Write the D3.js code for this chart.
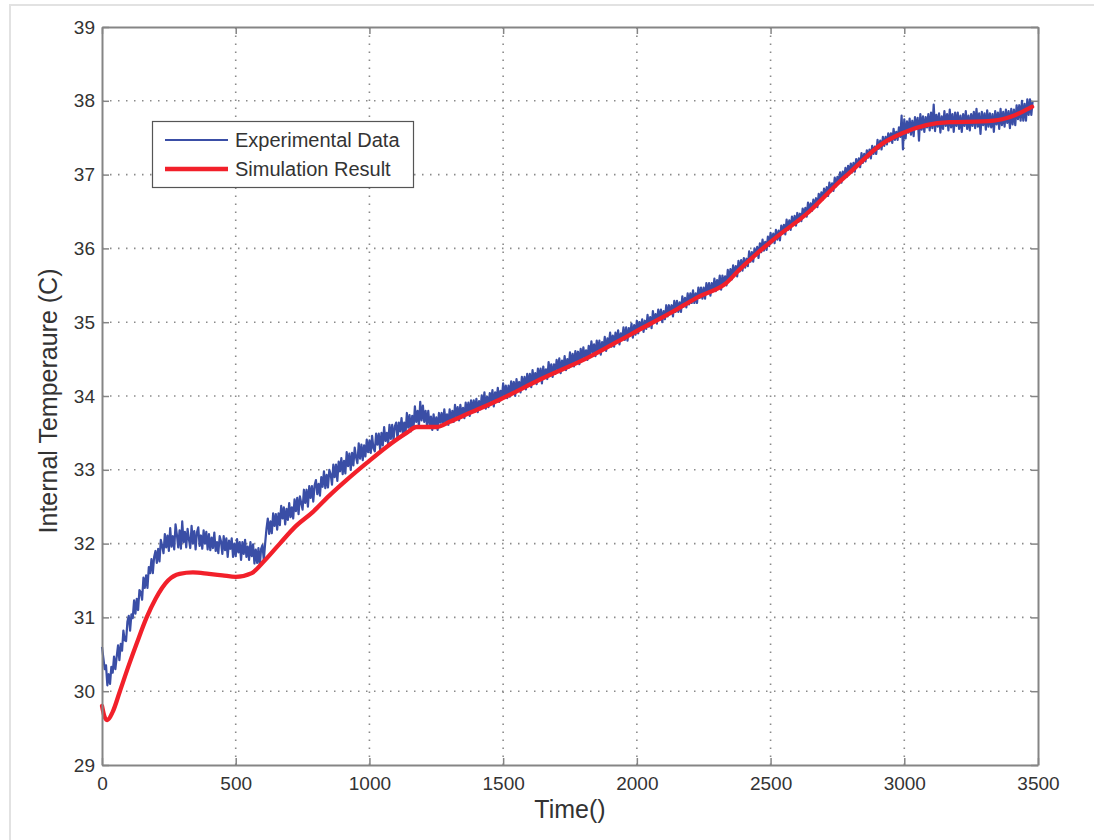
<!DOCTYPE html>
<html>
<head>
<meta charset="utf-8">
<script src="https://cdn.jsdelivr.net/npm/d3@7"></script>
<style>
  html, body { margin: 0; padding: 0; background: #fff; }
  svg { display: block; }
  text { font-family: "Liberation Sans", Arial, sans-serif; fill: #333; }
</style>
</head>
<body>
<svg id="chart" width="1094" height="840"></svg>
<script>
// Experimental measurements, sampled every 5 s from t = 0 to 3480 s (one row = 200 s)
const expStep = 5;
const expTemp = [
  30.60,30.45,30.30,30.35,30.08,30.23,30.10,30.33,30.25,30.47,30.30,30.47,30.62,30.42,30.64,30.55,30.82,30.69,30.68,30.94,31.02,30.82,31.04,30.99,31.23,31.05,31.25,31.10,31.37,31.34,31.24,31.54,31.40,31.57,31.40,31.68,31.60,31.79,31.60,31.82,
  31.90,31.74,31.93,31.76,32.05,31.97,31.87,32.13,31.95,32.11,31.90,32.21,31.96,32.10,31.92,32.26,32.12,31.95,32.18,31.93,32.30,32.02,32.16,31.95,32.20,32.06,31.94,32.24,32.00,32.17,31.92,32.15,32.22,31.97,32.11,31.93,32.18,32.00,32.16,31.92,
  32.13,31.91,32.08,31.94,32.15,31.90,32.02,31.87,32.10,32.03,31.86,32.10,31.91,32.07,31.82,32.04,31.93,32.07,31.82,32.00,31.83,32.06,31.88,32.02,31.78,32.02,31.86,32.05,31.82,31.96,31.78,32.02,31.83,31.99,31.73,31.92,31.74,31.94,31.70,31.93,
  31.98,31.78,32.00,32.20,32.34,32.13,32.30,32.14,32.41,32.24,32.40,32.19,32.41,32.25,32.51,32.34,32.49,32.26,32.47,32.32,32.55,32.36,32.49,32.34,32.60,32.44,32.62,32.40,32.64,32.55,32.46,32.73,32.55,32.73,32.50,32.78,32.62,32.78,32.57,32.79,
  32.86,32.67,32.81,32.65,32.90,32.77,32.98,32.75,32.93,32.76,33.00,32.94,32.80,33.07,32.90,33.07,32.85,33.11,32.98,33.16,32.94,33.12,32.95,33.24,33.05,33.22,33.00,33.23,33.06,33.30,33.17,33.09,33.36,33.15,33.34,33.13,33.33,33.18,33.41,33.24,
  33.40,33.23,33.46,33.29,33.25,33.49,33.34,33.49,33.27,33.50,33.33,33.58,33.39,33.50,33.35,33.61,33.42,33.61,33.40,33.59,33.64,33.42,33.64,33.52,33.70,33.49,33.64,33.49,33.77,33.57,33.74,33.52,33.73,33.57,33.86,33.65,33.80,33.59,33.92,33.67,
  33.87,33.65,33.80,33.61,33.80,33.60,33.72,33.54,33.75,33.57,33.71,33.54,33.77,33.64,33.77,33.60,33.82,33.64,33.75,33.61,33.82,33.65,33.80,33.65,33.88,33.72,33.85,33.67,33.88,33.73,33.84,33.70,33.91,33.77,33.91,33.73,33.94,33.79,33.94,33.79,
  33.96,33.78,33.93,33.82,34.01,33.86,34.05,33.83,33.99,33.85,34.04,33.93,34.08,33.86,34.05,33.94,34.11,33.92,34.07,33.96,34.17,34.00,34.14,33.97,34.14,33.99,34.20,34.06,34.19,34.00,34.23,34.08,34.19,34.05,34.26,34.12,34.26,34.09,34.30,34.15,
  34.30,34.12,34.35,34.19,34.31,34.16,34.37,34.24,34.37,34.17,34.40,34.25,34.36,34.23,34.46,34.29,34.43,34.26,34.43,34.30,34.49,34.36,34.51,34.31,34.48,34.37,34.54,34.35,34.50,34.38,34.59,34.43,34.57,34.40,34.61,34.47,34.60,34.43,34.64,34.49,
  34.66,34.51,34.62,34.49,34.68,34.53,34.74,34.59,34.70,34.54,34.75,34.60,34.75,34.56,34.73,34.64,34.80,34.61,34.78,34.69,34.86,34.67,34.82,34.67,34.86,34.73,34.89,34.70,34.85,34.76,34.93,34.76,34.93,34.75,34.92,34.83,34.98,34.79,34.96,34.83,
  35.02,34.85,35.00,34.91,35.04,34.87,35.02,34.91,35.10,34.94,35.07,34.92,35.15,35.00,35.11,34.98,35.17,35.03,35.17,35.00,35.15,35.04,35.23,35.08,35.23,35.12,35.23,35.08,35.29,35.14,35.29,35.14,35.27,35.14,35.35,35.21,35.33,35.20,35.39,35.24,
  35.39,35.26,35.43,35.26,35.39,35.26,35.47,35.33,35.47,35.32,35.47,35.32,35.53,35.40,35.53,35.36,35.53,35.42,35.59,35.42,35.57,35.48,35.63,35.44,35.63,35.52,35.62,35.50,35.71,35.57,35.72,35.58,35.77,35.65,35.76,35.62,35.83,35.69,35.84,35.70,
  35.87,35.74,35.86,35.76,35.96,35.82,35.95,35.82,36.00,35.90,36.02,35.87,36.07,35.95,36.12,35.97,36.09,35.98,36.16,36.03,36.21,36.08,36.20,36.07,36.25,36.12,36.24,36.11,36.31,36.20,36.32,36.19,36.39,36.25,36.38,36.25,36.43,36.32,36.44,36.31,
  36.48,36.36,36.47,36.37,36.54,36.44,36.55,36.43,36.62,36.49,36.61,36.51,36.66,36.56,36.68,36.56,36.74,36.63,36.76,36.66,36.81,36.71,36.83,36.71,36.89,36.77,36.88,36.78,36.96,36.84,36.97,36.89,37.03,36.89,37.04,36.95,37.09,36.97,37.12,37.02,
  37.15,37.03,37.16,37.04,37.21,37.11,37.22,37.10,37.29,37.16,37.28,37.18,37.33,37.23,37.34,37.22,37.39,37.28,37.38,37.28,37.47,37.35,37.46,37.34,37.51,37.39,37.51,37.41,37.56,37.45,37.56,37.43,37.62,37.47,37.58,37.47,37.64,37.51,37.80,37.34,
  37.75,37.49,37.72,37.57,37.76,37.54,37.73,37.52,37.78,37.62,37.77,37.46,37.82,37.61,37.79,37.58,37.78,37.64,37.82,37.60,37.84,37.63,37.95,37.59,37.81,37.65,37.83,37.57,37.79,37.62,37.86,37.66,37.82,37.60,37.88,37.64,37.82,37.58,37.84,37.66,
  37.84,37.62,37.80,37.58,37.82,37.66,37.86,37.62,37.80,37.60,37.82,37.66,37.85,37.63,37.89,37.65,37.83,37.55,37.85,37.67,37.83,37.61,37.87,37.65,37.83,37.64,37.82,37.58,37.86,37.68,37.84,37.62,37.89,37.67,37.85,37.65,37.88,37.70,37.86,37.63,
  37.89,37.68,37.88,37.67,37.94,37.75,37.94,37.73,38.00,37.73,37.96,37.73,38.02,37.81,38.02,37.81,38.00
];

// Simulation output (time in s, temperature in C)
const simTime = [0,10,20,40,67,100,130,167,200,247,290,340,400,450,500,560,603,665,720,789,850,914,989,1064,1139,1176,1250,1300,1374,1487,1636,1823,1984,2133,2234,2334,2383,2507,2645,2757,2794,2918,2992,3082,3168,3292,3366,3441,3478];
const simTemp = [29.80,29.65,29.61,29.72,30.00,30.35,30.65,31.00,31.25,31.50,31.59,31.61,31.59,31.57,31.55,31.60,31.75,32.00,32.22,32.43,32.65,32.86,33.09,33.31,33.50,33.58,33.58,33.65,33.77,33.95,34.22,34.53,34.85,35.14,35.35,35.53,35.71,36.11,36.50,36.90,37.02,37.42,37.56,37.67,37.71,37.72,37.75,37.85,37.92];

const xTicks = [0,500,1000,1500,2000,2500,3000,3500];
const yTicks = [29,30,31,32,33,34,35,36,37,38,39];
const seriesNames = ["Experimental Data", "Simulation Result"];

const expData = expTemp.map((v, i) => ({ t: i * expStep, v }));
const simData = simTime.map((t, i) => ({ t, v: simTemp[i] }));

const svg = d3.select("#chart");
const m = { left: 102, top: 27, right: 1038, bottom: 765 };

// Light frame around the figure
svg.append("path")
  .attr("d", "M10,840 L10,5 L1094,5")
  .attr("fill", "none").attr("stroke", "#e2e2e2").attr("stroke-width", 2);

const x = d3.scaleLinear().domain([0, 3500]).range([m.left, m.right]);
const y = d3.scaleLinear().domain([29, 39]).range([m.bottom, m.top]);

// Dotted grid
const grid = svg.append("g")
  .attr("stroke", "#8a8a8a").attr("stroke-width", 1.6)
  .attr("stroke-dasharray", "1.5,6.5").attr("fill", "none");
grid.selectAll(".gx").data(xTicks.slice(1, -1)).join("line")
  .attr("x1", d => x(d)).attr("x2", d => x(d))
  .attr("y1", m.bottom).attr("y2", m.top);
grid.selectAll(".gy").data(yTicks.slice(1, -1)).join("line")
  .attr("y1", d => y(d)).attr("y2", d => y(d))
  .attr("x1", m.left).attr("x2", m.right);

// Data lines
const line = d3.line().x(d => x(d.t)).y(d => y(d.v));
svg.append("path").datum(expData)
  .attr("d", line)
  .attr("fill", "none").attr("stroke", "#3a4ea6").attr("stroke-width", 2.2)
  .attr("stroke-linejoin", "round");
svg.append("path").datum(simData)
  .attr("d", line.curve(d3.curveMonotoneX))
  .attr("fill", "none").attr("stroke", "#f2202a").attr("stroke-width", 4.3)
  .attr("stroke-linejoin", "round").attr("stroke-linecap", "round");

// Axes with inward ticks on all four sides
const axisStyle = g => {
  g.select(".domain").attr("stroke", "#858585").attr("stroke-width", 2);
  g.selectAll(".tick line").attr("stroke", "#858585").attr("stroke-width", 1.5);
  g.selectAll(".tick text").style("font-size", "19px").attr("fill", "#333");
};
svg.append("g").attr("transform", `translate(0,${m.bottom})`)
  .call(d3.axisBottom(x).tickValues(xTicks).tickFormat(d3.format("d")).tickSizeInner(-7).tickSizeOuter(0).tickPadding(12))
  .call(axisStyle);
svg.append("g").attr("transform", `translate(${m.left},0)`)
  .call(d3.axisLeft(y).tickValues(yTicks).tickFormat(d3.format("d")).tickSizeInner(-7).tickSizeOuter(0).tickPadding(7))
  .call(axisStyle);
svg.append("g").attr("transform", `translate(0,${m.top})`)
  .call(d3.axisTop(x).tickValues(xTicks).tickFormat("").tickSizeInner(-7).tickSizeOuter(0))
  .call(axisStyle);
svg.append("g").attr("transform", `translate(${m.right},0)`)
  .call(d3.axisRight(y).tickValues(yTicks).tickFormat("").tickSizeInner(-7).tickSizeOuter(0))
  .call(axisStyle);

// Axis titles
svg.append("text")
  .attr("x", (m.left + m.right) / 2).attr("y", 818)
  .attr("text-anchor", "middle").style("font-size", "25px")
  .text("Time()");
svg.append("text")
  .attr("transform", "translate(57,401) rotate(-90)")
  .attr("text-anchor", "middle").style("font-size", "25px")
  .text("Internal Temperaure (C)");

// Legend
const legend = svg.append("g");
legend.append("rect")
  .attr("x", 152.5).attr("y", 121.5).attr("width", 261).attr("height", 66)
  .attr("fill", "#fff").attr("stroke", "#555").attr("stroke-width", 1.2);
const legendItems = [
  { name: seriesNames[0], color: "#3a4ea6", width: 2.2, yy: 140 },
  { name: seriesNames[1], color: "#f2202a", width: 4.5, yy: 169 }
];
legendItems.forEach(it => {
  legend.append("line")
    .attr("x1", 165).attr("x2", 228).attr("y1", it.yy).attr("y2", it.yy)
    .attr("stroke", it.color).attr("stroke-width", it.width);
  legend.append("text")
    .attr("x", 235).attr("y", it.yy + 7)
    .style("font-size", "20px")
    .text(it.name);
});
</script>
</body>
</html>
